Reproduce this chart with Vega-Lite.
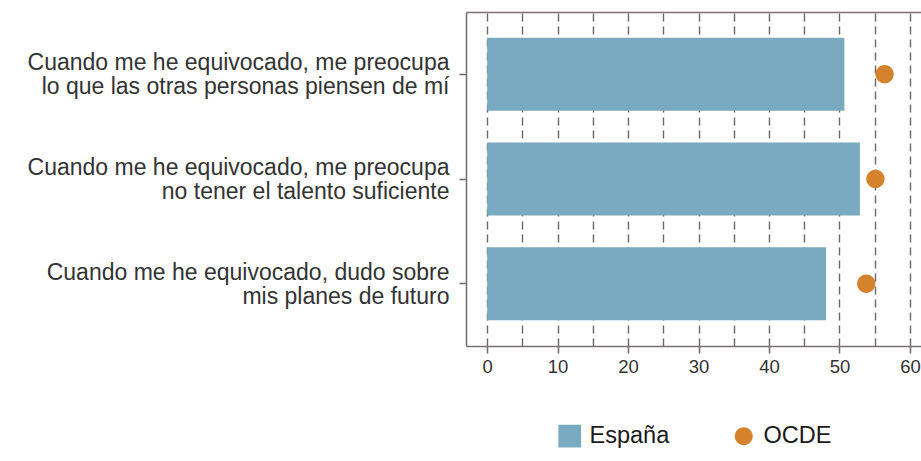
{
  "$schema": "https://vega.github.io/schema/vega-lite/v6.json",
  "width": 455,
  "height": 334,
  "autosize": {"type": "none"},
  "padding": {"left": 466, "top": 12, "right": 0, "bottom": 115},
  "background": "white",
  "config": {"font": "Liberation Sans", "view": {"stroke": null}},
  "data": {
    "values": [
      {"q": "Cuando me he equivocado, me preocupa|lo que las otras personas piensen de mí", "serie": "España", "v": 50.7},
      {"q": "Cuando me he equivocado, me preocupa|lo que las otras personas piensen de mí", "serie": "OCDE", "v": 56.4},
      {"q": "Cuando me he equivocado,  me preocupa|no tener el talento suficiente", "serie": "España", "v": 52.9},
      {"q": "Cuando me he equivocado,  me preocupa|no tener el talento suficiente", "serie": "OCDE", "v": 55.1},
      {"q": "Cuando me he equivocado, dudo sobre|mis planes de futuro", "serie": "España", "v": 48.1},
      {"q": "Cuando me he equivocado, dudo sobre|mis planes de futuro", "serie": "OCDE", "v": 53.8}
    ]
  },
  "encoding": {
    "y": {
      "field": "q",
      "type": "nominal",
      "sort": [
        "Cuando me he equivocado, me preocupa|lo que las otras personas piensen de mí",
        "Cuando me he equivocado,  me preocupa|no tener el talento suficiente",
        "Cuando me he equivocado, dudo sobre|mis planes de futuro"
      ],
      "scale": {"paddingInner": 0.303, "paddingOuter": 0.246},
      "axis": {
        "title": null,
        "domainColor": "#7a7070",
        "domainWidth": 1.6,
        "tickColor": "#7a7070",
        "tickWidth": 1.6,
        "tickSize": 7,
        "labelExpr": "split(datum.value, '|')",
        "labelFontSize": 23,
        "labelLineHeight": 24,
        "labelOffset": -11,
        "labelColor": "#333333",
        "labelPadding": 10,
        "labelLimit": 0
      }
    },
    "color": {
      "field": "serie",
      "type": "nominal",
      "scale": {"domain": ["España", "OCDE"], "range": ["#79AABF", "#D4822B"]},
      "legend": {
        "title": null,
        "orient": "none",
        "legendX": 92,
        "legendY": 412,
        "direction": "horizontal",
        "symbolSize": 515,
        "labelFontSize": 23.5,
        "labelColor": "#1a1a1a",
        "labelOffset": 8,
        "columnPadding": 62,
        "padding": 0,
        "symbolStrokeWidth": 0,
        "symbolOpacity": 1
      }
    }
  },
  "layer": [
    {
      "transform": [{"filter": "datum.serie === 'España'"}],
      "mark": {"type": "bar"},
      "encoding": {
        "x": {
          "field": "v",
          "type": "quantitative",
          "scale": {"domain": [-3, 61.57], "nice": false, "zero": false},
          "axis": {
            "orient": "bottom",
            "title": null,
            "values": [0, 5, 10, 15, 20, 25, 30, 35, 40, 45, 50, 55, 60],
            "grid": true,
            "gridColor": "#6e6565",
            "gridDash": [8, 5],
            "gridWidth": 1.4,
            "domainColor": "#7a7070",
            "domainWidth": 1.6,
            "tickColor": "#7a7070",
            "tickWidth": 1.6,
            "tickSize": 7,
            "tickOpacity": {"condition": {"test": "datum.value % 10 === 0", "value": 1}, "value": 0},
            "labelExpr": "datum.value % 10 === 0 ? datum.label : ''",
            "labelFontSize": 18.5,
            "labelColor": "#333333",
            "labelPadding": 4,
            "labelFlush": false
          }
        },
        "x2": {"datum": 0}
      }
    },
    {
      "transform": [{"filter": "datum.serie === 'OCDE'"}],
      "mark": {"type": "point", "filled": true, "opacity": 1, "size": 537},
      "encoding": {
        "x": {
          "field": "v",
          "type": "quantitative",
          "axis": {
            "orient": "top",
            "title": null,
            "labels": false,
            "ticks": false,
            "grid": false,
            "domainColor": "#7a7070",
            "domainWidth": 1.6
          }
        },
        "shape": {
          "field": "serie",
          "type": "nominal",
          "scale": {
            "domain": ["España", "OCDE"],
            "range": ["M-1,-1H1V1H-1Z", "M0.79,0A0.79,0.79,0,1,1,-0.79,0A0.79,0.79,0,1,1,0.79,0Z"]
          },
          "legend": {
            "title": null,
            "orient": "none",
            "legendX": 92,
            "legendY": 412,
            "direction": "horizontal",
            "symbolSize": 515,
            "labelFontSize": 23.5,
            "labelColor": "#1a1a1a",
            "labelOffset": 8,
            "columnPadding": 62,
            "padding": 0,
            "symbolStrokeWidth": 0,
            "symbolOpacity": 1
          }
        }
      }
    }
  ]
}
